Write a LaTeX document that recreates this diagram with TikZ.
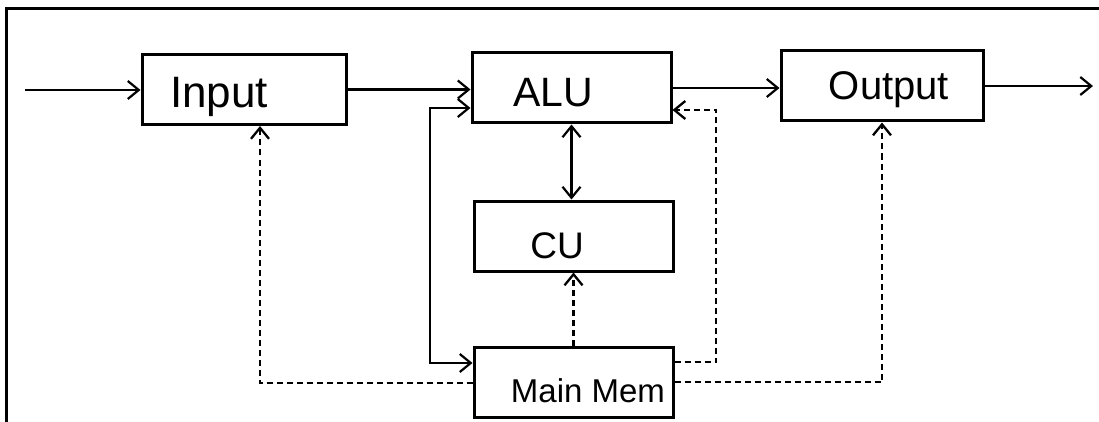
\documentclass[tikz,border=0pt]{standalone}
\usepackage{fontspec}
\setmainfont{Liberation Sans}
\usetikzlibrary{arrows.meta}
\begin{document}
\begin{tikzpicture}[x=1pt,y=-1pt,
  box/.style={draw=black, line width=3pt, minimum height=70pt, inner sep=0pt, fill=white},
  lbl/.style={inner sep=0pt, anchor=base, text=black},
  conn/.style={draw=black, line width=2.2pt},
  dline/.style={draw=black, line width=2.3pt, dash pattern=on 6pt off 4pt},
  >={Straight Barb[length=11pt,width=18pt]}]
\useasboundingbox (0,0) rectangle (1099,422);
\fill[white] (0,0) rectangle (1099,422);
% frame
\draw[line width=2.8pt] (6.3,422) -- (6.3,8.5) -- (1099,8.5);
% boxes
\node[box, minimum width=204pt] (inp) at (244,89.5) {};
\node[box, minimum width=199pt] (alu) at (571.5,88) {};
\node[box, minimum width=202pt] (out) at (882,86) {};
\node[box, minimum width=199pt] (cu)  at (573.5,236) {};
\node[box, minimum width=199pt] (mm)  at (573.5,382.5) {};
% labels
\node[lbl, font=\fontsize{44}{50}\selectfont] (tinp) at (219,108) {Input};
\node[lbl, font=\fontsize{41}{48}\selectfont] (talu) at (553,107) {ALU};
\node[lbl, font=\fontsize{40}{48}\selectfont] (tout) at (889,100) {Output};
\node[lbl, font=\fontsize{37}{44}\selectfont] (tcu)  at (557,258) {CU};
\node[lbl, font=\fontsize{33}{40}\selectfont] (tmm)  at (588,402) {Main Mem};
% solid connectors
\coordinate (src) at (25,90);
\coordinate (snk) at (1093,85);
\draw[conn,->] (src) -- (src -| inp.west);
\draw[conn,->] (inp.east) -- (inp.east -| alu.west);
\draw[conn,->] (alu.east) -- (alu.east -| out.west);
\draw[conn,->] (out.east) -- (out.east -| snk);
\draw[conn,<->] (alu.south) -- (alu.south |- cu.north);
\coordinate (bendA) at (430,363);
\coordinate (bendB) at (430,108);
\draw[conn,<->] (mm.west |- bendA) -- (bendA) -- (bendB) -- (alu.west |- bendB);
% dashed connectors
\coordinate (d1) at (716,362);
\coordinate (d2) at (716,110);
\draw[dline,->] (mm.east |- d1) -- (d1) -- (d2) -- (alu.east |- d2);
\coordinate (d3) at (260,383);
\draw[dline,->] (mm.west |- d3) -- (d3) -- (d3 |- inp.south);
\coordinate (d4) at (882,382);
\draw[dline,->] (mm.east |- d4) -- (d4) -- (d4 |- out.south);
\draw[dline,->] (mm.north) -- (cu.south);
\end{tikzpicture}
\end{document}
